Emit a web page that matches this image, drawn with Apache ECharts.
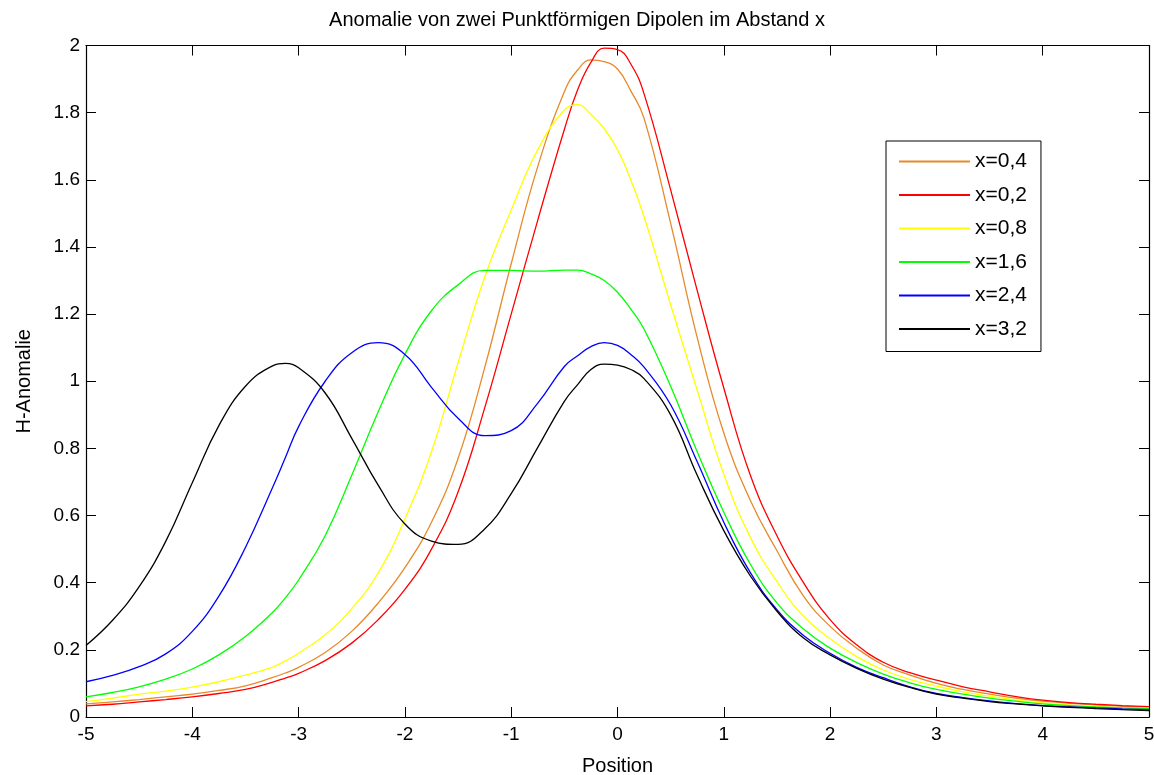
<!DOCTYPE html>
<html>
<head>
<meta charset="utf-8">
<script src="https://cdn.jsdelivr.net/npm/echarts@6/dist/echarts.min.js"></script>
<style>
  html, body { margin: 0; padding: 0; background: #fff; }
  #chart { width: 1154px; height: 775px; }
</style>
</head>
<body>
<div id="chart"></div>
<script>
// position along the profile
var positions = [-5, -4.75, -4.5, -4.25, -4, -3.75, -3.5, -3.25, -3.125,
  -3, -2.75, -2.5, -2.25, -2, -1.75, -1.5, -1.25, -1, -0.75, -0.5,
  -0.375, -0.25, -0.125, 0, 0.125,
  0.25, 0.5, 0.75, 1, 1.25, 1.5, 1.75, 2, 2.25, 2.5, 2.75, 3, 3.25, 3.5, 3.75, 4, 4.25, 4.5, 4.75, 5];

var seriesNames = ['x=0,4', 'x=0,2', 'x=0,8', 'x=1,6', 'x=2,4', 'x=3,2'];
var seriesColors = ['#e8892a', '#ff0000', '#ffff00', '#00ff00', '#0000ff', '#000000'];

// anomaly values
var h04 = [0.039, 0.045, 0.052, 0.06, 0.068, 0.079, 0.093, 0.117, 0.131,
  0.148, 0.192, 0.255, 0.34, 0.445, 0.58, 0.77, 1.04, 1.35, 1.64, 1.862,
  1.927, 1.957, 1.952, 1.93, 1.865,
  1.783, 1.47, 1.13, 0.846, 0.645, 0.495, 0.36, 0.27, 0.205, 0.155, 0.125, 0.1, 0.082, 0.068, 0.056, 0.047, 0.041, 0.036, 0.032, 0.029];
var h02 = [0.033, 0.038, 0.045, 0.052, 0.06, 0.07, 0.082, 0.103, 0.116,
  0.13, 0.168, 0.22, 0.29, 0.38, 0.5, 0.67, 0.92, 1.2, 1.48, 1.75,
  1.868, 1.95, 1.992, 1.988, 1.945,
  1.856, 1.57, 1.27, 0.98, 0.72, 0.54, 0.4, 0.29, 0.215, 0.163, 0.132, 0.11, 0.09, 0.075, 0.061, 0.05, 0.043, 0.038, 0.034, 0.031];
var h08 = [0.046, 0.056, 0.068, 0.077, 0.089, 0.105, 0.125, 0.148, 0.167,
  0.19, 0.245, 0.323, 0.43, 0.59, 0.79, 1.055, 1.31, 1.51, 1.69, 1.808,
  1.824, 1.795, 1.752, 1.69, 1.6,
  1.49, 1.228, 0.973, 0.723, 0.535, 0.403, 0.3, 0.233, 0.18, 0.14, 0.112, 0.092, 0.075, 0.062, 0.051, 0.042, 0.036, 0.031, 0.028, 0.026];
var h16 = [0.06, 0.073, 0.09, 0.113, 0.143, 0.185, 0.24, 0.31, 0.355,
  0.408, 0.54, 0.72, 0.91, 1.08, 1.21, 1.287, 1.33, 1.33, 1.328, 1.331,
  1.331, 1.32, 1.3, 1.265, 1.215,
  1.155, 0.985, 0.79, 0.61, 0.455, 0.34, 0.262, 0.205, 0.162, 0.128, 0.102, 0.082, 0.068, 0.056, 0.047, 0.039, 0.034, 0.03, 0.027, 0.025];
var h24 = [0.105, 0.124, 0.15, 0.188, 0.255, 0.36, 0.505, 0.68, 0.772,
  0.865, 1.0, 1.085, 1.115, 1.08, 0.982, 0.89, 0.838, 0.853, 0.935, 1.044,
  1.076, 1.103, 1.115, 1.107, 1.08,
  1.042, 0.93, 0.76, 0.58, 0.43, 0.32, 0.243, 0.19, 0.148, 0.117, 0.09, 0.07, 0.058, 0.048, 0.04, 0.034, 0.03, 0.027, 0.024, 0.022];
var h32 = [0.213, 0.288, 0.388, 0.523, 0.698, 0.868, 0.985, 1.045, 1.053,
  1.04, 0.965, 0.83, 0.69, 0.575, 0.524, 0.514, 0.56, 0.665, 0.803, 0.94,
  0.99, 1.035, 1.051, 1.048, 1.035,
  1.008, 0.9, 0.72, 0.555, 0.42, 0.315, 0.235, 0.185, 0.145, 0.113, 0.088, 0.068, 0.056, 0.046, 0.039, 0.033, 0.029, 0.025, 0.022, 0.019];

var allValues = [h04, h02, h08, h16, h24, h32];

var font = '"Liberation Sans", Arial, sans-serif';

function pairs(vals) {
  var out = [];
  for (var i = 0; i < positions.length; i++) {
    out.push([positions[i], vals[i]]);
  }
  return out;
}

var series = [];
for (var s = 0; s < seriesNames.length; s++) {
  series.push({
    name: seriesNames[s],
    type: 'line',
    xAxisIndex: 0,
    yAxisIndex: 0,
    data: pairs(allValues[s]),
    smooth: 0.45,
    symbol: 'none',
    lineStyle: { color: seriesColors[s], width: 1.3 },
    itemStyle: { color: seriesColors[s] },
    z: 2 + s
  });
}

var tick = { inside: true, length: 10, lineStyle: { color: '#000', width: 1 } };
var line = { show: true, onZero: false, lineStyle: { color: '#000', width: 1.2 } };

var myChart = echarts.init(document.getElementById('chart'));

var option = {
  backgroundColor: '#fff',
  animation: false,
  title: {
    text: 'Anomalie von zwei Punktförmigen Dipolen im Abstand x',
    left: 'center',
    top: 5,
    textStyle: { fontFamily: font, fontSize: 20, fontWeight: 'normal', color: '#000' }
  },
  grid: { left: 86, right: 5, top: 45.5, bottom: 58, outerBoundsMode: 'none' },
  legend: {
    orient: 'vertical',
    left: 886,
    top: 141,
    padding: [10, 14, 12, 13],
    itemWidth: 71,
    itemHeight: 2,
    itemGap: 12.5,
    icon: 'rect',
    backgroundColor: '#fff',
    borderColor: '#000',
    borderWidth: 1,
    borderRadius: 0,
    data: seriesNames,
    textStyle: { fontFamily: font, fontSize: 21, lineHeight: 20, color: '#000' }
  },
  xAxis: [
    {
      type: 'value', min: -5, max: 5, interval: 1, position: 'bottom',
      axisLine: line, axisTick: tick,
      axisLabel: { color: '#000', fontFamily: font, fontSize: 19, margin: 8 },
      splitLine: { show: false },
      name: 'Position', nameLocation: 'middle', nameGap: 39,
      nameTextStyle: { color: '#000', fontFamily: font, fontSize: 20 }
    },
    {
      type: 'value', min: -5, max: 5, interval: 1, position: 'top',
      axisLine: line, axisTick: tick,
      axisLabel: { show: false }, splitLine: { show: false }
    }
  ],
  yAxis: [
    {
      type: 'value', min: 0, max: 2, interval: 0.2, position: 'left',
      axisLine: line, axisTick: tick,
      axisLabel: { color: '#000', fontFamily: font, fontSize: 19, margin: 6 },
      splitLine: { show: false },
      name: 'H-Anomalie', nameLocation: 'middle', nameGap: 52,
      nameTextStyle: { color: '#000', fontFamily: font, fontSize: 20 }
    },
    {
      type: 'value', min: 0, max: 2, interval: 0.2, position: 'right',
      axisLine: line, axisTick: tick,
      axisLabel: { show: false }, splitLine: { show: false }
    }
  ],
  series: series
};

myChart.setOption(option);
</script>
</body>
</html>
